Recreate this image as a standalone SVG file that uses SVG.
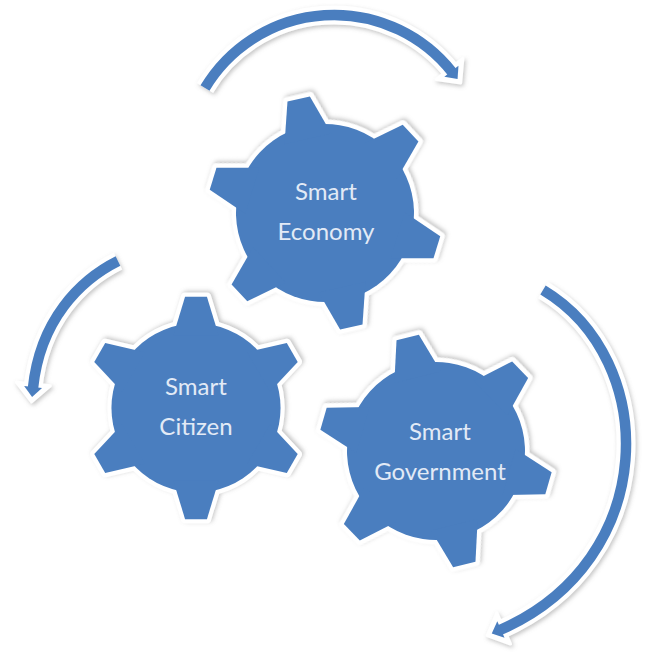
<svg xmlns="http://www.w3.org/2000/svg" xmlns:xlink="http://www.w3.org/1999/xlink" width="646" height="654" viewBox="0 0 646 654">
<style>
.gw{fill:#ffffff;stroke:#ffffff;stroke-width:9;stroke-linejoin:round}
.gb{fill:#4a7ebf;stroke:none}
.lbl{font-family:Lato,"Liberation Sans",sans-serif;font-size:24px;fill:#e2eaf6;text-anchor:middle}
.aw{fill:none;stroke:#ffffff;stroke-width:19}
.ab{fill:none;stroke:#4a7ebf;stroke-width:10.5}
</style>
<defs>
<filter id="sh" x="-20%" y="-20%" width="140%" height="140%">
<feDropShadow dx="1.5" dy="2" stdDeviation="2" flood-color="#7f7f7f" flood-opacity="0.45"/>
</filter>
<polygon id="tooth" points="76,-24 117,-11.5 117,11.5 76,24"/>
<g id="gear">
<circle r="89"/>
<use xlink:href="#tooth"/>
<use xlink:href="#tooth" transform="rotate(60)"/>
<use xlink:href="#tooth" transform="rotate(120)"/>
<use xlink:href="#tooth" transform="rotate(180)"/>
<use xlink:href="#tooth" transform="rotate(240)"/>
<use xlink:href="#tooth" transform="rotate(300)"/>
</g>
<marker id="hw" markerUnits="userSpaceOnUse" orient="auto" markerWidth="40" markerHeight="40" viewBox="-10 -20 40 40" refX="0" refY="0" overflow="visible">
<path d="M-4,-17 L14,0 L-4,17 z" fill="#ffffff" stroke="#ffffff" stroke-width="3" stroke-linejoin="round"/>
</marker>
<marker id="hb" markerUnits="userSpaceOnUse" orient="auto" markerWidth="40" markerHeight="40" viewBox="-10 -20 40 40" refX="0" refY="0" overflow="visible">
<path d="M-1,-9 L9,0 L-1,9 z" fill="#4a7ebf"/>
</marker>
</defs>
<rect width="646" height="654" fill="#ffffff"/>

<g id="connectors">
<g filter="url(#sh)">
<path class="aw" d="M205,88 A150.5,150.5 0 0 1 452,72" marker-end="url(#hw)"/>
<path class="aw" d="M118,261 C80,280 40,320 33,388" marker-end="url(#hw)"/>
<path class="aw" d="M543,290 C660,360 660,560 500,630" marker-end="url(#hw)"/>
</g>
<path class="ab" d="M205,88 A150.5,150.5 0 0 1 452,72" marker-end="url(#hb)"/>
<path class="ab" d="M118,261 C80,280 40,320 33,388" marker-end="url(#hb)"/>
<path class="ab" d="M543,290 C660,360 660,560 500,630" marker-end="url(#hb)"/>
</g>

<g id="economy">
<g transform="translate(325,213) rotate(-103)">
<use xlink:href="#gear" class="gw" filter="url(#sh)"/>
<use xlink:href="#gear" class="gb"/>
</g>
<text class="lbl" x="326" y="200">Smart</text>
<text class="lbl" x="326" y="240">Economy</text>
</g>

<g id="citizen">
<g transform="translate(196,408) rotate(-90) scale(0.95)">
<use xlink:href="#gear" class="gw" filter="url(#sh)"/>
<use xlink:href="#gear" class="gb"/>
</g>
<text class="lbl" x="196" y="395">Smart</text>
<text class="lbl" x="196" y="435">Citizen</text>
</g>

<g id="government">
<g transform="translate(436,451) rotate(-104)">
<use xlink:href="#gear" class="gw" filter="url(#sh)"/>
<use xlink:href="#gear" class="gb"/>
</g>
<text class="lbl" x="440" y="440">Smart</text>
<text class="lbl" x="440" y="480">Government</text>
</g>
</svg>
